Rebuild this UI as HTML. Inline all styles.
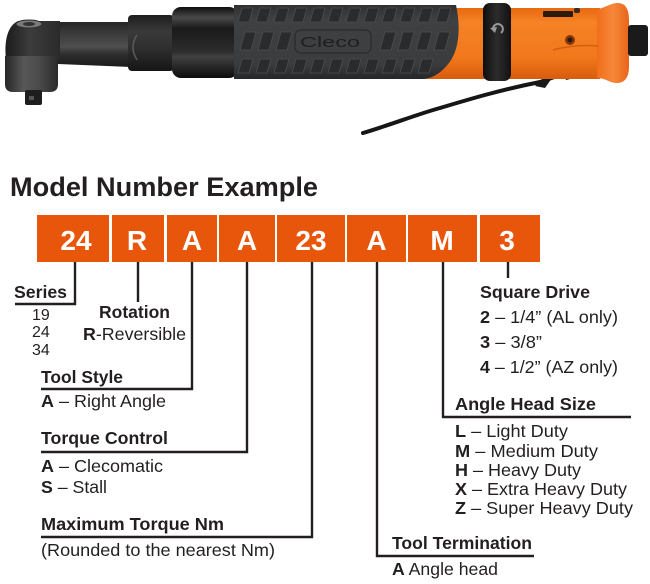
<!DOCTYPE html>
<html><head><meta charset="utf-8">
<style>
html,body{margin:0;padding:0;background:#fff;}
svg{display:block;}
text{font-family:"Liberation Sans",Arial,sans-serif;fill:#231f20;}
.b{font-weight:bold;}
.lab{font-size:17.5px;}
.box{font-size:28px;font-weight:bold;fill:#fff;text-anchor:middle;}
</style></head>
<body>
<svg width="650" height="584" viewBox="0 0 650 584" xmlns="http://www.w3.org/2000/svg">
<defs>
  <linearGradient id="gShaft" x1="0" y1="0" x2="0" y2="1">
    <stop offset="0" stop-color="#262626"/><stop offset="0.25" stop-color="#3a3a3a"/>
    <stop offset="0.55" stop-color="#4e4e4e"/><stop offset="0.72" stop-color="#2e2e2e"/>
    <stop offset="1" stop-color="#1a1a1a"/>
  </linearGradient>
  <linearGradient id="gHeadU" x1="0" y1="0" x2="1" y2="0">
    <stop offset="0" stop-color="#1c1c1c"/><stop offset="0.45" stop-color="#3c3c3c"/>
    <stop offset="1" stop-color="#2a2a2a"/>
  </linearGradient>
  <linearGradient id="gHeadL" x1="0" y1="0" x2="1" y2="0">
    <stop offset="0" stop-color="#262626"/><stop offset="0.35" stop-color="#575757"/>
    <stop offset="0.65" stop-color="#4a4a4a"/><stop offset="1" stop-color="#2a2a2a"/>
  </linearGradient>
  <linearGradient id="gBlack" x1="0" y1="0" x2="0" y2="1">
    <stop offset="0" stop-color="#0e0e0e"/><stop offset="0.15" stop-color="#4a4a4a"/>
    <stop offset="0.3" stop-color="#1a1a1a"/><stop offset="0.62" stop-color="#2c2c2c"/>
    <stop offset="0.7" stop-color="#404040"/><stop offset="1" stop-color="#0c0c0c"/>
  </linearGradient>
  <linearGradient id="gCollar" x1="0" y1="0" x2="0" y2="1">
    <stop offset="0" stop-color="#1e1e1e"/><stop offset="0.3" stop-color="#3a3a3a"/>
    <stop offset="0.6" stop-color="#2e2e2e"/><stop offset="1" stop-color="#151515"/>
  </linearGradient>
  <linearGradient id="gGrip" x1="0" y1="0" x2="0" y2="1">
    <stop offset="0" stop-color="#2e3032"/><stop offset="0.2" stop-color="#3e4042"/>
    <stop offset="0.8" stop-color="#3a3c3e"/><stop offset="1" stop-color="#25272a"/>
  </linearGradient>
  <linearGradient id="gOrange" x1="0" y1="0" x2="0" y2="1">
    <stop offset="0" stop-color="#e8690f"/><stop offset="0.2" stop-color="#f58225"/>
    <stop offset="0.7" stop-color="#f2781c"/><stop offset="1" stop-color="#d85c0c"/>
  </linearGradient>
  <linearGradient id="gFlare" x1="0" y1="0" x2="1" y2="0">
    <stop offset="0" stop-color="#f06e1a"/><stop offset="0.5" stop-color="#f7873a"/>
    <stop offset="1" stop-color="#e8661a"/>
  </linearGradient>
  <linearGradient id="gBand" x1="0" y1="0" x2="1" y2="0">
    <stop offset="0" stop-color="#0e0e0e"/><stop offset="0.5" stop-color="#2c2c2c"/>
    <stop offset="1" stop-color="#111"/>
  </linearGradient>
  <polygon id="ribA" points="4,0 15,0 11,14 0,14" fill="#2a2b2d" stroke="#4b4d50" stroke-width="0.8" stroke-linejoin="round"/>
  <polygon id="ribB" points="5,0 16,0 11,18 0,18" fill="#2a2b2d" stroke="#4b4d50" stroke-width="0.8" stroke-linejoin="round"/>
</defs>

<!-- ===== TOOL ===== -->
<!-- lever -->
<path d="M363,133 C390,125 418,114 440,108 C470,99 500,90 540,82 L566,73" fill="none" stroke="#161616" stroke-width="4" stroke-linecap="round"/>
<path d="M535,86 L546,76 L552,78 L545,88 Z" fill="#1a1a1a"/>
<path d="M560,64 L578,62 L579,77 L566,80 Z" fill="#1c1c1c"/>

<!-- shaft -->
<path d="M40,22 L130,22 L130,67 L58,64 L40,60 Z" fill="url(#gShaft)"/>
<!-- head upper -->
<path d="M6,60 C4,42 7,26 18,21 L60,21 L60,60 Z" fill="url(#gHeadU)"/>
<!-- head lower cylinder -->
<path d="M5,56 L58,56 L58,84 Q58,92 50,92 L13,92 Q5,92 5,84 Z" fill="url(#gHeadL)"/>
<!-- top cap -->
<ellipse cx="29" cy="24" rx="13" ry="4" fill="#7a7a7a" stroke="#2a2a2a" stroke-width="1"/>
<ellipse cx="29" cy="24" rx="6" ry="2" fill="#333"/>
<!-- square drive -->
<rect x="25" y="90" width="17" height="15" rx="2" fill="#1e1e1e"/>
<rect x="29" y="96" width="5" height="4" fill="#555"/>

<!-- collar -->
<rect x="128" y="15" width="46" height="56" rx="4" fill="url(#gCollar)"/>
<path d="M137,35 Q129,47 137,60" fill="none" stroke="#5a5a5a" stroke-width="1.5"/>

<!-- black body -->
<rect x="172" y="7" width="66" height="71" rx="9" fill="url(#gBlack)"/>

<!-- orange body -->
<path d="M418,8 L600,8 L600,79 L418,79 Z" fill="url(#gOrange)"/>
<!-- flare -->
<path d="M597,9 C606,8 610,3 618,3 C626,3 629,10 629,20 L629,66 C629,77 625,83 617,83 C609,83 606,78 597,78 Z" fill="url(#gFlare)"/>
<!-- nub -->
<rect x="628" y="25" width="20" height="31" rx="3" fill="#1a1a1a"/>
<!-- orange details -->
<rect x="543" y="11" width="30" height="6" rx="1" fill="#2a1a10"/>
<rect x="574" y="8" width="6" height="5" rx="2" fill="#3a2a20"/>
<path d="M553,50 Q575,44 598,46" fill="none" stroke="#d0600f" stroke-width="1.5"/>
<circle cx="570" cy="40" r="5" fill="#8a3408"/>
<circle cx="570" cy="40" r="2.5" fill="#1e1e1e"/>

<!-- grip -->
<path d="M234,5 L456,5 C461,28 459,50 449,63 C441,73 433,78 424,79 L234,79 Z" fill="url(#gGrip)"/>
<!-- ribs top row -->
<use href="#ribA" x="238" y="8"/><use href="#ribA" x="256" y="8"/><use href="#ribA" x="274" y="8"/>
<use href="#ribA" x="292" y="8"/><use href="#ribA" x="310" y="8"/><use href="#ribA" x="328" y="8"/>
<use href="#ribA" x="346" y="8"/><use href="#ribA" x="364" y="8"/><use href="#ribA" x="382" y="8"/>
<use href="#ribA" x="400" y="8"/><use href="#ribA" x="418" y="8"/><use href="#ribA" x="436" y="8"/>
<!-- ribs middle row -->
<use href="#ribB" x="240" y="32"/><use href="#ribB" x="258" y="32"/><use href="#ribB" x="276" y="32"/>
<use href="#ribB" x="380" y="32"/><use href="#ribB" x="398" y="32"/><use href="#ribB" x="416" y="32"/>
<use href="#ribB" x="434" y="32"/>
<!-- ribs bottom row -->
<use href="#ribA" x="238" y="59"/><use href="#ribA" x="256" y="59"/><use href="#ribA" x="274" y="59"/>
<use href="#ribA" x="292" y="59"/><use href="#ribA" x="310" y="59"/><use href="#ribA" x="328" y="59"/>
<use href="#ribA" x="346" y="59"/><use href="#ribA" x="364" y="59"/><use href="#ribA" x="382" y="59"/>
<use href="#ribA" x="400" y="59"/><use href="#ribA" x="418" y="59"/>
<!-- badge -->
<rect x="295" y="30" width="76" height="23" rx="6" fill="#3d3f41" stroke="#2a2b2d" stroke-width="1.2"/>
<text x="300" y="47" font-size="15" style="fill:#1e1f20;" textLength="60" lengthAdjust="spacingAndGlyphs">Cleco</text>

<!-- black band -->
<rect x="483" y="3" width="28" height="78" rx="7" fill="url(#gBand)"/>
<path d="M493,30 A5,5 0 1 1 501,33" fill="none" stroke="#9a9a9a" stroke-width="2"/>
<path d="M490,28 L495,33 L497,27 Z" fill="#9a9a9a"/>

<!-- ===== TITLE ===== -->
<text x="10" y="196" class="b" font-size="27" textLength="308" lengthAdjust="spacingAndGlyphs">Model Number Example</text>

<!-- ===== BOXES ===== -->
<g fill="#e8560c">
  <rect x="37" y="215" width="72" height="47"/>
  <rect x="112" y="215" width="52" height="47"/>
  <rect x="167" y="215" width="50" height="47"/>
  <rect x="219" y="215" width="56" height="47"/>
  <rect x="277" y="215" width="68" height="47"/>
  <rect x="347" y="215" width="59" height="47"/>
  <rect x="408" y="215" width="69" height="47"/>
  <rect x="480" y="215" width="60" height="47"/>
</g>
<text class="box" x="76" y="250">24</text>
<text class="box" x="137" y="250">R</text>
<text class="box" x="192" y="250">A</text>
<text class="box" x="247" y="250">A</text>
<text class="box" x="311" y="250">23</text>
<text class="box" x="376.5" y="250">A</text>
<text class="box" x="442" y="250">M</text>
<text class="box" x="507" y="250">3</text>

<!-- ===== CONNECTORS ===== -->
<g fill="none" stroke="#231f20" stroke-width="2.4">
  <path d="M75,262 V304 H15"/>
  <path d="M138,262 V302"/>
  <path d="M192,262 V389 H41"/>
  <path d="M247,262 V452 H41"/>
  <path d="M312,262 V537 H41"/>
  <path d="M377,262 V556 H534"/>
  <path d="M443,262 V417 H631"/>
  <path d="M508,262 V278"/>
</g>

<!-- ===== LABELS ===== -->
<text class="lab b" x="14" y="298" textLength="53" lengthAdjust="spacingAndGlyphs">Series</text>
<text x="32" y="320" font-size="16">19</text>
<text x="32" y="337" font-size="16">24</text>
<text x="32" y="355" font-size="16">34</text>

<text class="lab b" x="99" y="318" textLength="71" lengthAdjust="spacingAndGlyphs">Rotation</text>
<text class="lab" x="83" y="340" textLength="103" lengthAdjust="spacingAndGlyphs"><tspan class="b">R</tspan>-Reversible</text>

<text class="lab b" x="41" y="383" textLength="82" lengthAdjust="spacingAndGlyphs">Tool Style</text>
<text class="lab" x="41" y="407" textLength="125" lengthAdjust="spacingAndGlyphs"><tspan class="b">A</tspan> – Right Angle</text>

<text class="lab b" x="41" y="444" textLength="127" lengthAdjust="spacingAndGlyphs">Torque Control</text>
<text class="lab" x="41" y="472" textLength="122" lengthAdjust="spacingAndGlyphs"><tspan class="b">A</tspan> – Clecomatic</text>
<text class="lab" x="41" y="493" textLength="66" lengthAdjust="spacingAndGlyphs"><tspan class="b">S</tspan> – Stall</text>

<text class="lab b" x="41" y="530" textLength="183" lengthAdjust="spacingAndGlyphs">Maximum Torque Nm</text>
<text class="lab" x="41" y="556" textLength="234" lengthAdjust="spacingAndGlyphs">(Rounded to the nearest Nm)</text>

<text class="lab b" x="480" y="298" textLength="110" lengthAdjust="spacingAndGlyphs">Square Drive</text>
<text class="lab" x="480" y="323" textLength="138" lengthAdjust="spacingAndGlyphs"><tspan class="b">2</tspan> – 1/4” (AL only)</text>
<text class="lab" x="480" y="348" textLength="62" lengthAdjust="spacingAndGlyphs"><tspan class="b">3</tspan> – 3/8”</text>
<text class="lab" x="480" y="373" textLength="138" lengthAdjust="spacingAndGlyphs"><tspan class="b">4</tspan> – 1/2” (AZ only)</text>

<text class="lab b" x="455" y="410" textLength="141" lengthAdjust="spacingAndGlyphs">Angle Head Size</text>
<text class="lab" x="455" y="437" textLength="113" lengthAdjust="spacingAndGlyphs"><tspan class="b">L</tspan> – Light Duty</text>
<text class="lab" x="455" y="457" textLength="143" lengthAdjust="spacingAndGlyphs"><tspan class="b">M</tspan> – Medium Duty</text>
<text class="lab" x="455" y="476" textLength="126" lengthAdjust="spacingAndGlyphs"><tspan class="b">H</tspan> – Heavy Duty</text>
<text class="lab" x="455" y="495" textLength="172" lengthAdjust="spacingAndGlyphs"><tspan class="b">X</tspan> – Extra Heavy Duty</text>
<text class="lab" x="455" y="514" textLength="178" lengthAdjust="spacingAndGlyphs"><tspan class="b">Z</tspan> – Super Heavy Duty</text>

<text class="lab b" x="392" y="549" textLength="140" lengthAdjust="spacingAndGlyphs">Tool Termination</text>
<text class="lab" x="392" y="575" textLength="106" lengthAdjust="spacingAndGlyphs"><tspan class="b">A</tspan> Angle head</text>
</svg>
</body></html>
